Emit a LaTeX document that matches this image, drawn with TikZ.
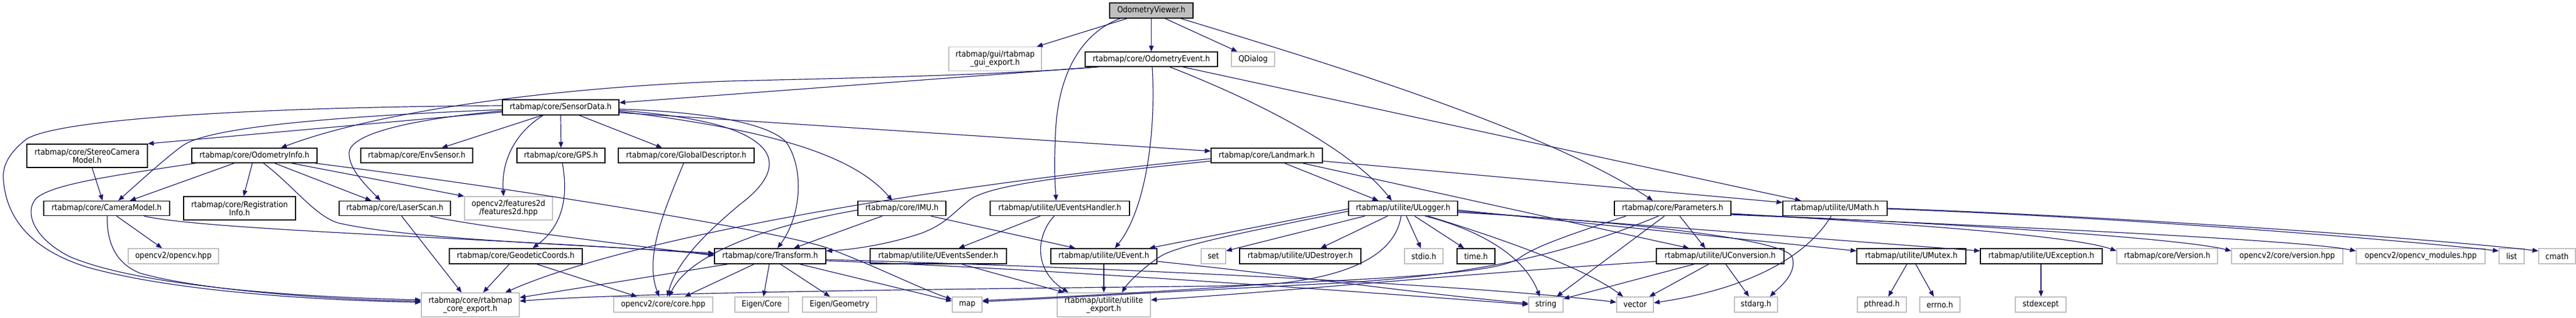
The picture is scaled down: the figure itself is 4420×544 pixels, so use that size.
\documentclass[tikz,border=0pt]{standalone}
\usepackage{fontspec}
\setmainfont{DejaVu Sans}[FakeStretch=0.9]
\usetikzlibrary{arrows.meta}
\definecolor{edgeblue}{HTML}{191970}
\definecolor{extgray}{HTML}{BFBFBF}
\newcommand\dgfont{\fontsize{14pt}{14pt}\selectfont}
\tikzset{
 box/.style={draw=black, line width=1.4pt, fill=white, inner sep=0pt, align=center, font=\dgfont, minimum height=25pt},
 ext/.style={box, draw=extgray},
 tall/.style={minimum height=41pt},
 wd/.style={minimum width=#1pt},
 dep/.style={draw=edgeblue, line width=1.2pt, -{Triangle[length=10pt,width=8pt]}},
}
\begin{document}
\begin{tikzpicture}[x=1pt,y=-1pt]
\useasboundingbox (0,0) rectangle (4420,544);
% row 0
\node[box, wd=143, minimum height=26pt, fill=extgray] (root) at (1975.5,18) {OdometryViewer.h};
% row 1
\node[ext, tall, wd=159] (guiexp) at (1707.5,101) {rtabmap/gui/rtabmap\\\_gui\_export.h};
\node[box, wd=227] (odomevt) at (1975.5,101.5) {rtabmap/core/OdometryEvent.h};
\node[ext, wd=74] (qdialog) at (2150,101.5) {QDialog};
% row 2
\node[box, wd=200, minimum height=26pt] (sensordata) at (962,184) {rtabmap/core/SensorData.h};
% row 3
\node[box, tall, wd=207, minimum height=40pt] (stereo) at (149.5,267) {rtabmap/core/StereoCamera\\Model.h};
\node[box, wd=215] (odominfo) at (436.5,266.5) {rtabmap/core/OdometryInfo.h};
\node[box, wd=192] (envsensor) at (715,266.5) {rtabmap/core/EnvSensor.h};
\node[box, wd=151] (gps) at (962.5,266.5) {rtabmap/core/GPS.h};
\node[box, wd=233] (globaldesc) at (1177.5,266.5) {rtabmap/core/GlobalDescriptor.h};
\node[box, wd=191] (landmark) at (2173.5,266.5) {rtabmap/core/Landmark.h};
% row 4
\node[box, wd=216] (cammodel) at (183,357) {rtabmap/core/CameraModel.h};
\node[box, wd=192, minimum height=40pt] (reginfo) at (411,357) {rtabmap/core/Registration\\Info.h};
\node[box, wd=191] (laserscan) at (677.5,357) {rtabmap/core/LaserScan.h};
\node[ext, wd=151, minimum height=40pt] (features) at (872.5,357) {opencv2/features2d\\/features2d.hpp};
\node[box, wd=151] (imu) at (1547.5,357) {rtabmap/core/IMU.h};
\node[box, wd=239] (uevhandler) at (1818.5,357) {rtabmap/utilite/UEventsHandler.h};
\node[box, wd=187] (ulogger) at (2407.5,357) {rtabmap/utilite/ULogger.h};
\node[box, wd=200] (params) at (2870,357) {rtabmap/core/Parameters.h};
\node[box, wd=179] (umath) at (3148.5,357) {rtabmap/utilite/UMath.h};
% row 5
\node[ext, wd=155, minimum height=26pt] (opencvhpp) at (297.5,439) {opencv2/opencv.hpp};
\node[box, wd=228, minimum height=26pt] (geodetic) at (885,439) {rtabmap/core/GeodeticCoords.h};
\node[box, wd=191, minimum height=26pt] (transform) at (1321.5,439) {rtabmap/core/Transform.h};
\node[box, wd=234, minimum height=26pt] (uevsender) at (1610,439) {rtabmap/utilite/UEventsSender.h};
\node[box, wd=182, minimum height=26pt] (uevent) at (1894,439) {rtabmap/utilite/UEvent.h};
\node[ext, wd=42, minimum height=26pt] (set) at (2082,439) {set};
\node[box, wd=208, minimum height=26pt] (udestroyer) at (2231,439) {rtabmap/utilite/UDestroyer.h};
\node[ext, wd=66, minimum height=26pt] (stdio) at (2443,439) {stdio.h};
\node[box, wd=65, minimum height=26pt] (time) at (2532.5,439) {time.h};
\node[box, wd=219, minimum height=26pt] (uconv) at (2951.5,439) {rtabmap/utilite/UConversion.h};
\node[box, wd=187, minimum height=26pt] (umutex) at (3279.5,439) {rtabmap/utilite/UMutex.h};
\node[box, wd=209, minimum height=26pt] (uexcept) at (3502.5,439) {rtabmap/utilite/UException.h};
\node[ext, wd=173, minimum height=26pt] (version) at (3718.5,439) {rtabmap/core/Version.h};
\node[ext, wd=191, minimum height=26pt] (cvversion) at (3924.5,439) {opencv2/core/version.hpp};
\node[ext, wd=221, minimum height=26pt] (cvmodules) at (4153.5,439) {opencv2/opencv\_modules.hpp};
\node[ext, wd=43, minimum height=26pt] (list) at (4309.5,439) {list};
\node[ext, wd=63, minimum height=26pt] (cmath) at (4387.5,439) {cmath};
% row 6
\node[ext, tall, wd=168] (coreexp) at (807,522.5) {rtabmap/core/rtabmap\\\_core\_export.h};
\node[ext, wd=170, minimum height=26pt] (corehpp) at (1138,522) {opencv2/core/core.hpp};
\node[ext, wd=92, minimum height=26pt] (eigencore) at (1307,522) {Eigen/Core};
\node[ext, wd=127, minimum height=26pt] (eigengeom) at (1440.5,522) {Eigen/Geometry};
\node[ext, wd=51, minimum height=26pt] (map) at (1659.5,522) {map};
\node[ext, tall, wd=160] (utilexp) at (1894,522.5) {rtabmap/utilite/utilite\\\_export.h};
\node[ext, wd=59, minimum height=26pt] (string) at (2652.5,522) {string};
\node[ext, wd=63, minimum height=26pt] (vector) at (2805.5,522) {vector};
\node[ext, wd=74, minimum height=26pt] (stdarg) at (3013,522) {stdarg.h};
\node[ext, wd=84, minimum height=26pt] (pthread) at (3229,522) {pthread.h};
\node[ext, wd=69, minimum height=26pt] (errno) at (3328.5,522) {errno.h};
\node[ext, wd=87, minimum height=26pt] (stdexcept) at (3501.5,522) {stdexcept};

% ---- edges ----
% root
\draw[dep] (root.south -| 1934,0) -- (guiexp.north -| 1779,0);
\draw[dep] (root.south -| 1922,0) .. controls (1860,55) and (1815,120) .. (1811,230) .. controls (1808,300) and (1811,320) .. (uevhandler.north -| 1812,0);
\draw[dep] (root.south) -- (odomevt.north);
\draw[dep] (root.south -| 1999,0) -- (qdialog.north -| 2123,0);
\draw[dep] (root.south -| 2026,0) .. controls (2250,100) and (2650,220) .. (params.north -| 2836,0);
% odometry event
\draw[dep] (odomevt.south -| 1882,0) -- (sensordata.east |- 0,176);
\draw[dep] (odomevt.south -| 1886,0) .. controls (1700,130) and (1400,135) .. (1250,139) .. controls (950,150) and (650,190) .. (odominfo.north -| 482,0);
\draw[dep] (odomevt.south -| 1977,0) .. controls (1984,230) and (1965,360) .. (uevent.north -| 1913,0);
\draw[dep] (odomevt.south -| 2007,0) .. controls (2200,190) and (2330,270) .. (ulogger.north -| 2388,0);
\draw[dep] (odomevt.south -| 2029,0) -- (umath.north -| 3090,0);
% sensor data
\draw[dep] (sensordata.west |- 0,192) -- (stereo.north east);
\draw[dep] (sensordata.west |- 0,188) .. controls (550,200) and (360,220) .. (316,248) .. controls (290,265) and (230,320) .. (cammodel.north -| 203,0);
\draw[dep] (sensordata.west |- 0,181) .. controls (500,183) and (110,200) .. (46,238) .. controls (15,262) and (3,285) .. (6,310) .. controls (12,380) and (60,430) .. (150,458) .. controls (300,500) and (550,515) .. (coreexp.west |- 0,518);
\draw[dep] (sensordata.west |- 0,190) .. controls (700,205) and (600,230) .. (599,262) .. controls (598,290) and (630,320) .. (laserscan.north -| 653,0);
\draw[dep] (sensordata.south -| 930,0) -- (envsensor.north -| 758,0);
\draw[dep] (sensordata.south -| 932,0) .. controls (880,230) and (860,280) .. (features.north -| 864,0);
\draw[dep] (sensordata.south) -- (gps.north);
\draw[dep] (sensordata.south -| 994,0) -- (globaldesc.north -| 1136,0);
\draw[dep] (sensordata.east |- 0,187) .. controls (1250,193) and (1330,220) .. (1350,245) .. controls (1380,290) and (1375,370) .. (transform.north -| 1334,0);
\draw[dep] (sensordata.east |- 0,189) .. controls (1200,200) and (1280,220) .. (1310,255) .. controls (1335,285) and (1310,320) .. (1270,350) .. controls (1210,400) and (1160,450) .. (corehpp.north -| 1145,0);
\draw[dep] (sensordata.east |- 0,191) .. controls (1300,220) and (1460,260) .. (imu.north -| 1531,0);
\draw[dep] (sensordata.east |- 0,193) -- (landmark.west |- 0,259);
% odometry info
\draw[dep] (odominfo.south -| 336,0) .. controls (200,300) and (90,315) .. (62,340) .. controls (40,365) and (60,410) .. (120,440) .. controls (250,495) and (550,510) .. (coreexp.west |- 0,514);
\draw[dep] (odominfo.south -| 402,0) -- (cammodel.north -| 223,0);
\draw[dep] (odominfo.south -| 433,0) -- (reginfo.north -| 418,0);
\draw[dep] (odominfo.south -| 452,0) .. controls (500,315) and (540,370) .. (580,382) .. controls (700,410) and (1000,420) .. (transform.west |- 0,434);
\draw[dep] (odominfo.south -| 471,0) -- (laserscan.north -| 637,0);
\draw[dep] (odominfo.south -| 500,0) -- (features.north west);
\draw[dep] (odominfo.south -| 540,0) .. controls (900,325) and (1330,395) .. (1420,425) .. controls (1500,455) and (1580,495) .. (map.west |- 0,513);
% camera model
\draw[dep] (cammodel.south -| 200,0) -- (opencvhpp.north -| 278,0);
\draw[dep] (cammodel.south -| 184,0) .. controls (183,410) and (195,450) .. (240,468) .. controls (350,500) and (600,515) .. (coreexp.west |- 0,516);
\draw[dep] (cammodel.south -| 247,0) .. controls (350,395) and (900,410) .. (transform.west |- 0,436);
\draw[dep] (stereo.south -| 158,0) -- (cammodel.north -| 176,0);
% laser scan
\draw[dep] (laserscan.south -| 689,0) -- (coreexp.north -| 792,0);
\draw[dep] (laserscan.south -| 738,0) .. controls (800,385) and (1000,410) .. (transform.west |- 0,438);
% gps, geodetic, global descriptor
\draw[dep] (gps.south -| 965,0) .. controls (972,320) and (975,380) .. (geodetic.north -| 914,0);
\draw[dep] (geodetic.south -| 874,0) -- (coreexp.north -| 829,0);
\draw[dep] (geodetic.south -| 921,0) -- (corehpp.north -| 1093,0);
\draw[dep] (globaldesc.south -| 1173,0) .. controls (1140,360) and (1105,440) .. (corehpp.north -| 1131,0);
% transform
\draw[dep] (transform.south -| 1249,0) -- (coreexp.east |- 0,510);
\draw[dep] (transform.south -| 1294,0) -- (corehpp.north -| 1175,0);
\draw[dep] (transform.south -| 1320,0) -- (eigencore.north -| 1310,0);
\draw[dep] (transform.south -| 1339,0) -- (eigengeom.north -| 1424,0);
\draw[dep] (transform.south -| 1372,0) -- (map.west |- 0,516);
\draw[dep] (transform.east |- 0,447) .. controls (1800,460) and (2400,505) .. (string.west |- 0,522);
\draw[dep] (transform.east |- 0,445) .. controls (1800,455) and (2500,485) .. (vector.west |- 0,518);
% imu
\draw[dep] (imu.south -| 1514,0) -- (transform.north -| 1362,0);
\draw[dep] (imu.south -| 1597,0) -- (uevent.north -| 1845,0);
\draw[dep] (imu.west |- 0,360) .. controls (1300,390) and (1180,440) .. (corehpp.north -| 1148,0);
% landmark
\draw[dep] (landmark.west |- 0,272) .. controls (1500,330) and (1050,420) .. (coreexp.north -| 867,0);
\draw[dep] (landmark.west |- 0,276) .. controls (1850,300) and (1700,315) .. (1663,343) .. controls (1630,370) and (1620,385) .. (1580,400) .. controls (1520,420) and (1460,428) .. (transform.east |- 0,430);
\draw[dep] (landmark.south -| 2204,0) -- (ulogger.north -| 2365,0);
\draw[dep] (landmark.south -| 2235,0) -- (uconv.north -| 2898,0);
\draw[dep] (landmark.east |- 0,276) -- (umath.west |- 0,347);
% events
\draw[dep] (uevhandler.south -| 1785,0) -- (uevsender.north -| 1645,0);
\draw[dep] (uevhandler.south -| 1809,0) .. controls (1780,400) and (1770,460) .. (utilexp.north -| 1833,0);
\draw[dep] (uevsender.south -| 1650,0) -- (utilexp.north -| 1826,0);
\draw[dep] (uevent.south) -- (utilexp.north);
\draw[dep] (uevent.east |- 0,448) .. controls (2200,470) and (2450,505) .. (string.west |- 0,520);
% ulogger
\draw[dep] (ulogger.west |- 0,362) .. controls (2150,395) and (2020,420) .. (1990,440) .. controls (1960,460) and (1935,485) .. (utilexp.north -| 1925,0);
\draw[dep] (ulogger.west |- 0,358) -- (uevent.north -| 1972,0);
\draw[dep] (ulogger.south -| 2342,0) -- (set.east |- 0,430);
\draw[dep] (ulogger.south -| 2404,0) .. controls (2395,430) and (2330,470) .. (2200,485) .. controls (2000,500) and (1800,510) .. (map.east |- 0,515);
\draw[dep] (ulogger.south -| 2381,0) -- (udestroyer.north -| 2266,0);
\draw[dep] (ulogger.south -| 2413,0) -- (stdio.north -| 2438,0);
\draw[dep] (ulogger.south -| 2427,0) -- (time.north -| 2512,0);
\draw[dep] (ulogger.south -| 2445,0) .. controls (2560,400) and (2620,450) .. (string.north -| 2642,0);
\draw[dep] (ulogger.south -| 2450,0) .. controls (2580,410) and (2720,460) .. (vector.north -| 2785,0);
\draw[dep] (ulogger.east |- 0,360) -- (umutex.west |- 0,430);
\draw[dep] (ulogger.east |- 0,362) -- (uexcept.west |- 0,430);
\draw[dep] (ulogger.east |- 0,364) .. controls (2800,380) and (3060,410) .. (3075,440) .. controls (3085,470) and (3050,495) .. (stdarg.north -| 3037,0);
% parameters
\draw[dep] (params.south -| 2790,0) .. controls (2700,400) and (2640,420) .. (2610,440) .. controls (2580,465) and (2450,475) .. (2100,490) .. controls (1700,495) and (1100,500) .. (coreexp.east |- 0,516);
\draw[dep] (params.south -| 2846,0) .. controls (2700,430) and (2550,470) .. (2300,485) .. controls (2000,500) and (1800,512) .. (map.east |- 0,517);
\draw[dep] (params.south -| 2856,0) -- (string.north -| 2671,0);
\draw[dep] (params.south -| 2882,0) -- (uconv.north -| 2926,0);
\draw[dep] (params.east |- 0,366) .. controls (3300,385) and (3560,405) .. (version.west |- 0,430);
\draw[dep] (params.east |- 0,367) .. controls (3400,385) and (3750,410) .. (cvversion.west |- 0,430);
\draw[dep] (params.east |- 0,368) .. controls (3500,390) and (3950,412) .. (cvmodules.west |- 0,430);
% uconversion
\draw[dep] (uconv.west |- 0,448) .. controls (2500,470) and (2200,500) .. (utilexp.east |- 0,514);
\draw[dep] (uconv.south -| 2907,0) -- (string.east |- 0,512);
\draw[dep] (uconv.south -| 2932,0) -- (vector.north -| 2830,0);
\draw[dep] (uconv.south -| 2961,0) -- (stdarg.north -| 3001,0);
% umath
\draw[dep] (umath.south -| 3142,0) .. controls (3100,440) and (3000,495) .. (vector.east |- 0,519);
\draw[dep] (umath.east |- 0,358) .. controls (3700,375) and (4150,415) .. (list.west |- 0,430);
\draw[dep] (umath.east |- 0,357) .. controls (3700,374) and (4200,412) .. (cmath.west |- 0,430);
% mutex, exception
\draw[dep] (umutex.south -| 3272,0) -- (pthread.north -| 3240,0);
\draw[dep] (umutex.south -| 3287,0) -- (errno.north -| 3318,0);
\draw[dep] (uexcept.south -| 3502,0) -- (stdexcept.north -| 3502,0);
\end{tikzpicture}
\end{document}
